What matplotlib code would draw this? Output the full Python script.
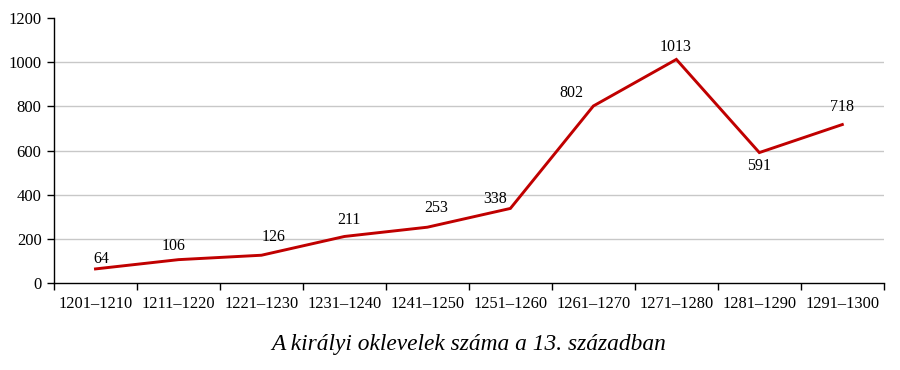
import matplotlib

matplotlib.use("Agg", force=True)

import matplotlib.pyplot as plt
import numpy as np

# Decades of the 13th century and number of royal charters
periods = ["1201–1210", "1211–1220", "1221–1230", "1231–1240", "1241–1250",
           "1251–1260", "1261–1270", "1271–1280", "1281–1290", "1291–1300"]
charters = [64, 106, 126, 211, 253, 338, 802, 1013, 591, 718]
y_ticks = [0, 200, 400, 600, 800, 1000, 1200]
title = "A királyi oklevelek száma a 13. században"

# label offsets in pixels (dx, dy)
label_offsets = [(6, 10), (-5, 14), (12, 18), (5, 16), (9, 19),
                 (-15, 9), (-22, 13), (-1, 12), (0, -13), (0, 18)]

plt.rcParams["font.family"] = ["Liberation Serif", "DejaVu Serif"]

fig = plt.figure(figsize=(9, 3.7), dpi=100, facecolor="white")
ax = fig.add_axes([0.06, 0.235, 0.922, 0.716])

x = np.arange(len(periods)) + 0.5
ax.plot(x, charters, color="#c00000", linewidth=2.1, solid_joinstyle="miter")

for xi, v, (dx, dy) in zip(x, charters, label_offsets):
    ax.annotate(str(v), (xi, v), xytext=(dx, dy), textcoords="offset pixels",
                ha="center", va="center", fontsize=11.5)

ax.set_xlim(0, len(periods))
ax.set_ylim(0, 1200)
ax.set_yticks(y_ticks)
ax.set_yticklabels([str(t) for t in y_ticks], fontsize=12)
ax.set_xticks(np.arange(len(periods) + 1))
ax.set_xticklabels([])
ax.set_xticks(x, minor=True)
ax.set_xticklabels(periods, minor=True, fontsize=11.8)
ax.tick_params(axis="x", which="minor", length=0, pad=9)
ax.tick_params(axis="x", which="major", length=5, width=1, direction="out")
ax.tick_params(axis="y", length=5, width=1, direction="out", pad=4)

for t in y_ticks[1:-1]:
    ax.axhline(t, color="#c8c8c8", linewidth=1, zorder=0)

for s in ("top", "right"):
    ax.spines[s].set_visible(False)
for s in ("left", "bottom"):
    ax.spines[s].set_linewidth(1)

fig.text(0.521, 0.07, title, ha="center", va="center", fontsize=16.8,
         style="italic")

fig.savefig("out.png", dpi=100, facecolor="white")
